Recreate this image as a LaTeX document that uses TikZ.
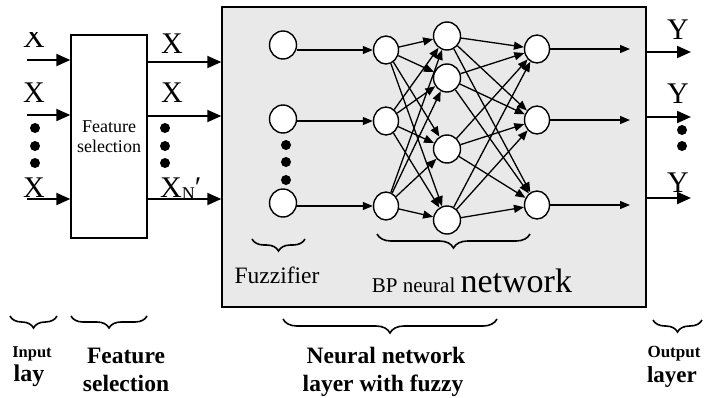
\documentclass[tikz,border=0pt]{standalone}
\usepackage{fontspec}
\setmainfont{Liberation Serif}
\usetikzlibrary{arrows.meta,shapes.geometric,decorations.pathreplacing}
\definecolor{boxgrey}{RGB}{233,233,233}
\begin{document}
\begin{tikzpicture}[x=1pt,y=-1pt,
  neuron/.style={ellipse,draw,line width=1.4pt,fill=white,minimum width=27pt,minimum height=28pt,inner sep=0pt},
  bigarrow/.style={line width=2pt,-{Triangle[length=14pt,width=12pt]}},
  smallarrow/.style={line width=1.3pt,-{Triangle[length=10pt,width=8pt]}},
  dotmark/.style={circle,fill=black,inner sep=0pt,minimum size=10pt},
  curly/.style={decorate,decoration={brace,mirror,amplitude=#1},line width=1.6pt},
  lbl/.style={inner sep=0pt,anchor=base,font=\fontsize{30}{32}\selectfont},
]
\useasboundingbox (0,0) rectangle (715,397);

% boxes
\node[draw,line width=1.4pt,fill=boxgrey,minimum width=424pt,minimum height=300pt,inner sep=0pt] (nn) at (434,157) {};
\node[draw,line width=1.4pt,fill=white,minimum width=76pt,minimum height=203pt,inner sep=0pt,align=center,font=\fontsize{18}{20}\selectfont] (fs) at (109,136.5) {Feature\\selection};

% input arrows
\coordinate (i1) at (27,60);
\coordinate (i2) at (27,115);
\coordinate (i3) at (27,199);
\draw[bigarrow] (i1) -- (i1 -| fs.west);
\draw[bigarrow] (i2) -- (i2 -| fs.west);
\draw[bigarrow] (i3) -- (i3 -| fs.west);
\begin{scope}
  \clip (0,32) rectangle (70,60);
  \node[lbl] (x1) at (34,47) {X};
\end{scope}
\node[lbl] (x2) at (34,102) {X};
\node[lbl] (x3) at (34,197) {X};
\node[dotmark] (ld1) at (35,128) {};
\node[dotmark] (ld2) at (35,146) {};
\node[dotmark] (ld3) at (35,163) {};

% feature outputs
\coordinate (o1) at (147,62);
\coordinate (o2) at (147,116);
\coordinate (o3) at (147,199);
\draw[bigarrow] (o1) -- (o1 -| nn.west);
\draw[bigarrow] (o2) -- (o2 -| nn.west);
\draw[bigarrow] (o3) -- (o3 -| nn.west);
\node[lbl] (fx1) at (172,53) {X};
\node[lbl] (fx2) at (172,102) {X};
\node[lbl,anchor=base west] (fx3) at (160,197) {X\raisebox{-2pt}{\fontsize{18}{18}\selectfont N}′};
\node[dotmark] (md1) at (165,128) {};
\node[dotmark] (md2) at (165,146) {};
\node[dotmark] (md3) at (165,163) {};

% fuzzifier nodes
\node[neuron] (f1) at (283,45) {};
\node[neuron] (f2) at (283,119) {};
\node[neuron] (f3) at (283,203) {};
\node[dotmark] (fd1) at (286,145) {};
\node[dotmark] (fd2) at (286,162) {};
\node[dotmark] (fd3) at (286,180) {};

% BP input layer
\node[neuron,minimum width=25pt] (c1) at (386,50) {};
\node[neuron,minimum width=25pt] (c2) at (386,121) {};
\node[neuron,minimum width=25pt] (c3) at (386,206) {};
% hidden layer
\node[neuron] (h1) at (447,36) {};
\node[neuron] (h2) at (447,78) {};
\node[neuron] (h3) at (447,149) {};
\node[neuron] (h4) at (447,220) {};
% output layer
\node[neuron,minimum width=25pt] (p1) at (537,49) {};
\node[neuron,minimum width=25pt] (p2) at (537,120) {};
\node[neuron,minimum width=25pt] (p3) at (537,205) {};

\draw[smallarrow] (f1.east |- c1) -- (c1.west);
\draw[smallarrow] (f2.east |- c2) -- (c2.west);
\draw[smallarrow] (f3.east |- c3) -- (c3.west);

\foreach \a in {1,2,3}{
  \foreach \b in {1,2,3,4}{
    \draw[smallarrow] (c\a) -- (h\b);
  }
}
\foreach \b in {1,2,3,4}{
  \foreach \a in {1,2,3}{
    \draw[smallarrow] (h\b) -- (p\a);
  }
}

% output inner arrows
\coordinate (e1) at (630,49);
\coordinate (e2) at (630,120);
\coordinate (e3) at (630,205);
\draw[smallarrow] (p1.east) -- (e1);
\draw[smallarrow] (p2.east) -- (e2);
\draw[smallarrow] (p3.east) -- (e3);

% outputs outside
\coordinate (y1) at (691,52);
\coordinate (y2) at (691,117);
\coordinate (y3) at (691,198);
\draw[bigarrow] (nn.east |- y1) -- (y1);
\draw[bigarrow] (nn.east |- y2) -- (y2);
\draw[bigarrow] (nn.east |- y3) -- (y3);
\node[lbl] (yl1) at (678,39) {Y};
\node[lbl] (yl2) at (678,103) {Y};
\node[lbl] (yl3) at (678,192) {Y};
\node[dotmark] (rd1) at (682,130) {};
\node[dotmark] (rd2) at (682,146) {};

% braces inside
\coordinate (fb1) at (252,239);
\coordinate (fb2) at (305,239);
\draw[curly=12pt] (fb1) -- (fb2);
\node[inner sep=0pt,anchor=base,font=\fontsize{23.5}{25}\selectfont] (fz) at (277,283) {Fuzzifier};
\coordinate (bb1) at (377,234);
\coordinate (bb2) at (530,234);
\draw[curly=14pt] (bb1) -- (bb2);
\node[inner sep=0pt,anchor=base,font=\fontsize{21}{23}\selectfont] (bp) at (472,292) {BP neural \fontsize{34}{36}\selectfont network};

% bottom braces
\coordinate (ib1) at (10,316);
\coordinate (ib2) at (57,316);
\draw[curly=12pt] (ib1) -- (ib2);
\coordinate (sb1) at (71,316);
\coordinate (sb2) at (147,316);
\draw[curly=12pt] (sb1) -- (sb2);
\coordinate (nb1) at (283,319);
\coordinate (nb2) at (497,319);
\draw[curly=14pt] (nb1) -- (nb2);
\coordinate (ob1) at (653,320);
\coordinate (ob2) at (702,320);
\draw[curly=12pt] (ob1) -- (ob2);

% bottom labels
\node[inner sep=0pt,anchor=base,font=\bfseries\fontsize{16.5}{18}\selectfont] (in1) at (32,357) {Input};
\node[inner sep=0pt,anchor=base,font=\bfseries\fontsize{24}{26}\selectfont] (in2) at (29,381) {lay};
\node[inner sep=0pt,anchor=base,font=\bfseries\fontsize{23.5}{25}\selectfont] (fe1) at (126,363) {Feature};
\node[inner sep=0pt,anchor=base,font=\bfseries\fontsize{23.5}{25}\selectfont] (fe2) at (126,391) {selection};
\node[inner sep=0pt,anchor=base,font=\bfseries\fontsize{23.5}{25}\selectfont] (ne1) at (386,363) {Neural network};
\node[inner sep=0pt,anchor=base,font=\bfseries\fontsize{23.5}{25}\selectfont] (ne2) at (383,391) {layer with fuzzy};
\node[inner sep=0pt,anchor=base,font=\bfseries\fontsize{17}{19}\selectfont] (ou1) at (674,357) {Output};
\node[inner sep=0pt,anchor=base,font=\bfseries\fontsize{23}{25}\selectfont] (ou2) at (672,382) {layer};
\end{tikzpicture}
\end{document}
